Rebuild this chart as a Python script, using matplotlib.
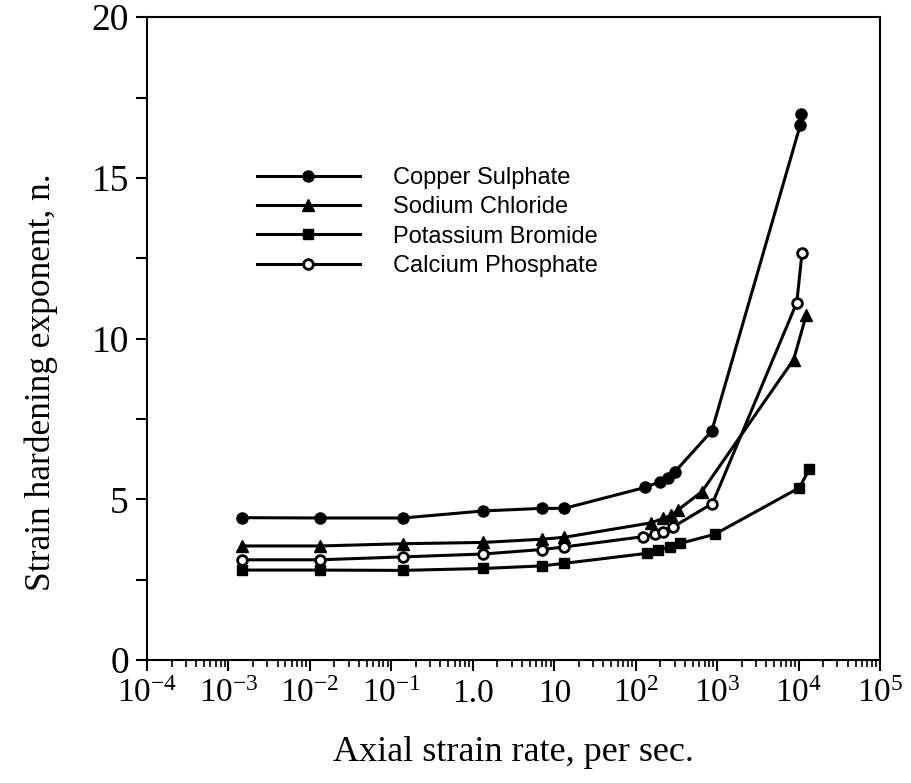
import matplotlib
matplotlib.use('Agg')
import matplotlib.pyplot as plt
from matplotlib.ticker import LogLocator, MultipleLocator, NullFormatter

plt.rcParams['mathtext.fontset'] = 'custom'
plt.rcParams['mathtext.rm'] = 'Liberation Serif'
plt.rcParams['mathtext.it'] = 'Liberation Serif:italic'

# strain rate (per sec) and strain hardening exponent n
rate_low = [1.46e-3, 1.33e-2, 0.138, 1.35, 7.1, 13.3]

cs_rate = rate_low + [130, 200, 252, 304, 860, 10500, 10800]
cs_n = [4.43, 4.42, 4.42, 4.64, 4.72, 4.72, 5.37, 5.55, 5.68, 5.86, 7.13, 16.65, 17.0]

nacl_rate = rate_low + [155, 218, 275, 330, 650, 8700, 12400]
nacl_n = [3.55, 3.55, 3.62, 3.66, 3.76, 3.82, 4.27, 4.41, 4.51, 4.67, 5.24, 9.35, 10.73]

kbr_rate = rate_low + [136, 190, 265, 350, 930, 10200, 13500]
kbr_n = [2.80, 2.80, 2.79, 2.85, 2.93, 3.01, 3.32, 3.42, 3.52, 3.63, 3.91, 5.36, 5.93]

cp_rate = rate_low + [124, 175, 215, 290, 875, 9500, 11000]
cp_n = [3.12, 3.12, 3.21, 3.30, 3.44, 3.52, 3.84, 3.92, 3.99, 4.15, 4.87, 11.12, 12.65]

labels = ['Copper Sulphate', 'Sodium Chloride', 'Potassium Bromide', 'Calcium Phosphate']

x_ticks = [1e-4, 1e-3, 1e-2, 1e-1, 1, 10, 1e2, 1e3, 1e4, 1e5]
x_tick_labels = [r'$10^{-4}$', r'$10^{-3}$', r'$10^{-2}$', r'$10^{-1}$', '1.0', '10',
                 r'$10^{2}$', r'$10^{3}$', r'$10^{4}$', r'$10^{5}$']

fig = plt.figure(figsize=(9.11, 7.83), dpi=100)
ax = fig.add_axes([0.1614, 0.157, 0.8046, 0.821])

lw = 2.2
ax.plot(cs_rate, cs_n, '-o', color='black', lw=lw, ms=8, label=labels[0])
ax.plot(nacl_rate, nacl_n, '-^', color='black', lw=lw, ms=8, label=labels[1])
ax.plot(kbr_rate, kbr_n, '-s', color='black', lw=lw, ms=7.5, label=labels[2])
ax.plot(cp_rate, cp_n, '-o', color='black', mfc='white', mew=2, lw=lw, ms=7, label=labels[3])

ax.set_xscale('log')
ax.set_xlim(1e-4, 1e5)
ax.set_ylim(0, 20)
ax.set_xticks(x_ticks)
ax.set_xticklabels(x_tick_labels)
ax.xaxis.set_minor_locator(LogLocator(base=10, subs=range(2, 10), numticks=100))
ax.xaxis.set_minor_formatter(NullFormatter())
ax.yaxis.set_major_locator(MultipleLocator(5))
ax.yaxis.set_minor_locator(MultipleLocator(2.5))

for lab in ax.get_xticklabels() + ax.get_yticklabels():
    lab.set_fontfamily('Liberation Serif')
ax.tick_params(axis='both', which='major', direction='out', length=8, width=1.5, pad=5)
ax.tick_params(axis='x', which='major', labelsize=24)
ax.tick_params(axis='y', which='major', labelsize=27)
ax.tick_params(axis='x', which='minor', direction='out', length=5, width=1.2)
ax.tick_params(axis='y', which='minor', direction='out', length=8, width=1.5)
for s in ax.spines.values():
    s.set_linewidth(1.5)

ax.set_xlabel('Axial strain rate, per sec.', fontfamily='Liberation Serif', fontsize=26)
ax.set_ylabel('Strain hardening exponent, n.', fontfamily='Liberation Serif', fontsize=25.5)
ax.xaxis.set_label_coords(0.5, -0.118)
ax.yaxis.set_label_coords(-0.122, 0.432)

leg = ax.legend(loc='upper left', bbox_to_anchor=(0.121, 0.80), frameon=False,
                handlelength=4.36, handletextpad=1.4, labelspacing=0.31, numpoints=1,
                prop={'family': 'Liberation Sans', 'size': 17})

fig.savefig('out.png', dpi=100)
